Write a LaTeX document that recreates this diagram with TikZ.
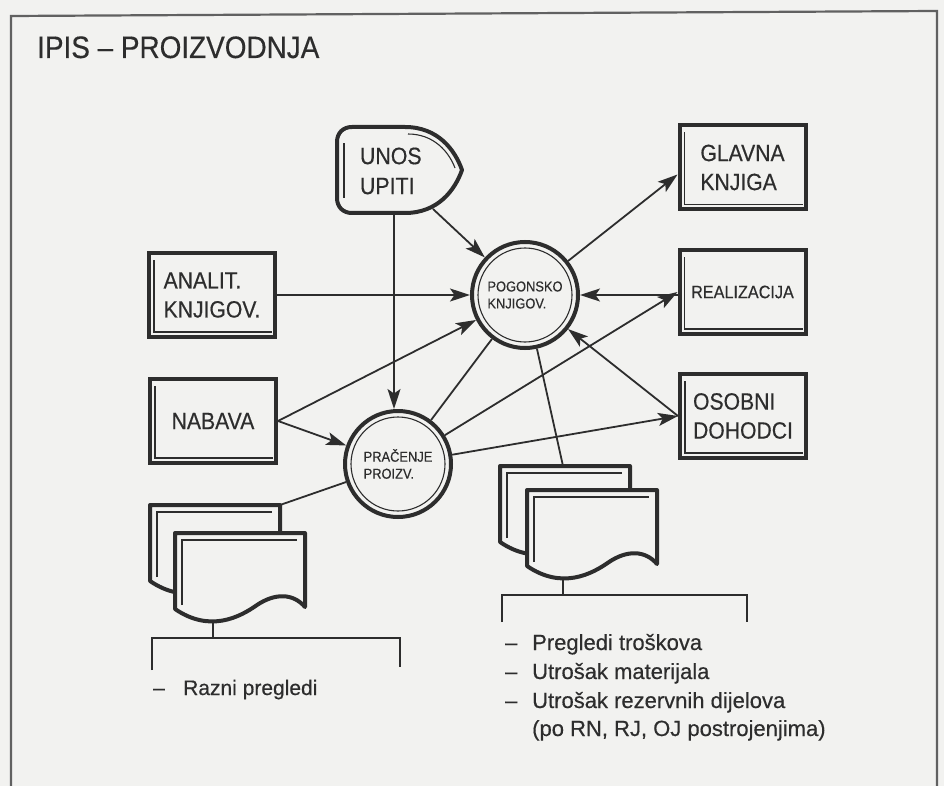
\documentclass[tikz,border=0pt]{standalone}
\usepackage{fontspec}
\setmainfont{Liberation Sans}[FakeBold=0.4]
\newfontfamily\cond{Liberation Sans}[FakeStretch=0.9,FakeBold=0.4]
\usetikzlibrary{arrows.meta}
\definecolor{ink}{RGB}{45,45,45}
\definecolor{bg}{RGB}{242,242,240}
\begin{document}
\begin{tikzpicture}[x=1pt,y=-1pt,
  every node/.style={text=ink},
  box/.style={draw=ink, line width=4pt, fill=bg, minimum width=126pt, minimum height=84pt,
    inner sep=0pt, align=left, font=\cond\fontsize{23.5}{29}\selectfont},
  hub/.style={circle, draw=ink, line width=4pt, fill=bg, minimum size=106pt, inner sep=0pt,
    align=left, font=\cond\fontsize{14.3}{17}\selectfont},
  thinline/.style={draw=ink, line width=1.1pt},
  con/.style={draw=ink, line width=1.8pt},
  arr/.style={draw=ink, line width=1.8pt, -{Stealth[length=20pt,width=13pt,inset=4.5pt]}},
  listtxt/.style={anchor=base west, inner sep=0pt, font=\fontsize{22}{22}\selectfont},
  docsheet/.pic={
    \draw[ink, line width=4pt, fill=bg, line join=round] (0,0) -- (130,0) -- (130,74)
      .. controls (118,60) and (100,60) .. (82,72)
      .. controls (65,84) and (35,100) .. (0,76) -- cycle;
    \draw[thinline] (7,72) -- (7,7) -- (122,7);
  }
]
\fill[bg] (0,0) rectangle (944,786);
\useasboundingbox (0,0) rectangle (944,786);

% frame
\draw[ink!75, line width=2.2pt] (11,786) -- (11,16) -- (937,11) -- (937,786);

% title
\node[anchor=base west, inner sep=0pt, font=\cond\fontsize{31}{31}\selectfont] (title) at (37,58) {IPIS – PROIZVODNJA};

% document stacks
\pic at (150,505) {docsheet};
\pic at (175,533) {docsheet};
\pic at (500,466) {docsheet};
\pic at (527,490) {docsheet};
\coordinate (ldoc) at (280,505);
\coordinate (rdoc) at (563,466);

% brackets
\draw[con] (213,622) -- (213,638);
\draw[con] (152,670) -- (152,638) -- (400,638) -- (400,667);
\draw[con] (563,578) -- (563,595);
\draw[con] (502,622) -- (502,595) -- (747,595) -- (747,622);

% list texts
\node[listtxt, font=\fontsize{21}{21}\selectfont] (raz) at (153,695) {\makebox[30pt][l]{–}Razni pregledi};
\node[listtxt] (l1) at (505,650) {\makebox[27pt][l]{–}Pregledi troškova};
\node[listtxt] (l2) at (505,679) {\makebox[27pt][l]{–}Utrošak materijala};
\node[listtxt] (l3) at (505,708) {\makebox[27pt][l]{–}Utrošak rezervnih dijelova};
\node[listtxt] (l4) at (532,736) {(po RN, RJ, OJ postrojenjima)};

% UNOS UPITI display shape
\draw[ink, line width=4pt, fill=bg, line join=round] (352,127) -- (405,127)
  .. controls (438,127) and (455,150) .. (462,170)
  .. controls (455,190) and (438,213) .. (405,213) -- (352,213)
  .. controls (343,213) and (337,207) .. (337,198) -- (337,142)
  .. controls (337,133) and (343,127) .. (352,127) -- cycle;
\draw[thinline] (344,198) -- (344,143);
\draw[thinline] (408,134) .. controls (434,134) and (449,152) .. (455,168);
\node[inner sep=0pt, align=left, text width=72pt, font=\cond\fontsize{23.7}{30}\selectfont] (unos) at (396,171) {UNOS\\UPITI};
\coordinate (unosB) at (394,213);
\coordinate (unosR) at (433,209);

% boxes
\node[box] (analit) at (212,295) {ANALIT.\\KNJIGOV.};
\node[box] (nabava) at (213,421) {NABAVA};
\node[box] (glavna) at (742.5,167.5) {GLAVNA\\KNJIGA};
\node[box, font=\cond\fontsize{18}{18}\selectfont] (realiz) at (742.5,292) {REALIZACIJA};
\node[box] (osobni) at (743,416) {OSOBNI\\DOHODCI};
\foreach \n in {analit,nabava,glavna,realiz,osobni}{
  \draw[thinline] ([xshift=7pt,yshift=-9pt]\n.north west) -- ([xshift=7pt,yshift=7pt]\n.south west)
    -- ([xshift=-5pt,yshift=7pt]\n.south east);
}

% hubs
\node[hub] (pog) at (525,295) {POGONSKO\\KNJIGOV.};
\node[hub] (prac) at (398,464) {PRAČENJE\\PROIZV.};
\draw[thinline] (pog) circle[radius=47pt];
\draw[thinline] (prac) circle[radius=47pt];

% connectors
\draw[arr] (unosR) -- (pog);
\draw[arr] (unosB) -- (unosB |- prac.north);
\draw[arr] (analit.east) -- (analit.east -| pog.west);
\draw[arr] (nabava.east) -- (pog);
\draw[arr] (nabava.east) -- (prac);
\draw[con] (prac) -- (pog);
\draw[arr] (prac) -- (realiz.west);
\draw[arr] (prac) -- (osobni.west);
\draw[arr] (osobni.west) -- (pog);
\draw[arr] (realiz.west |- pog.east) -- (pog.east);
\draw[arr] (pog) -- ([yshift=-7pt]glavna.west);
\draw[con] (pog) -- (rdoc);
\draw[con] (prac) -- (ldoc);
\end{tikzpicture}
\end{document}
